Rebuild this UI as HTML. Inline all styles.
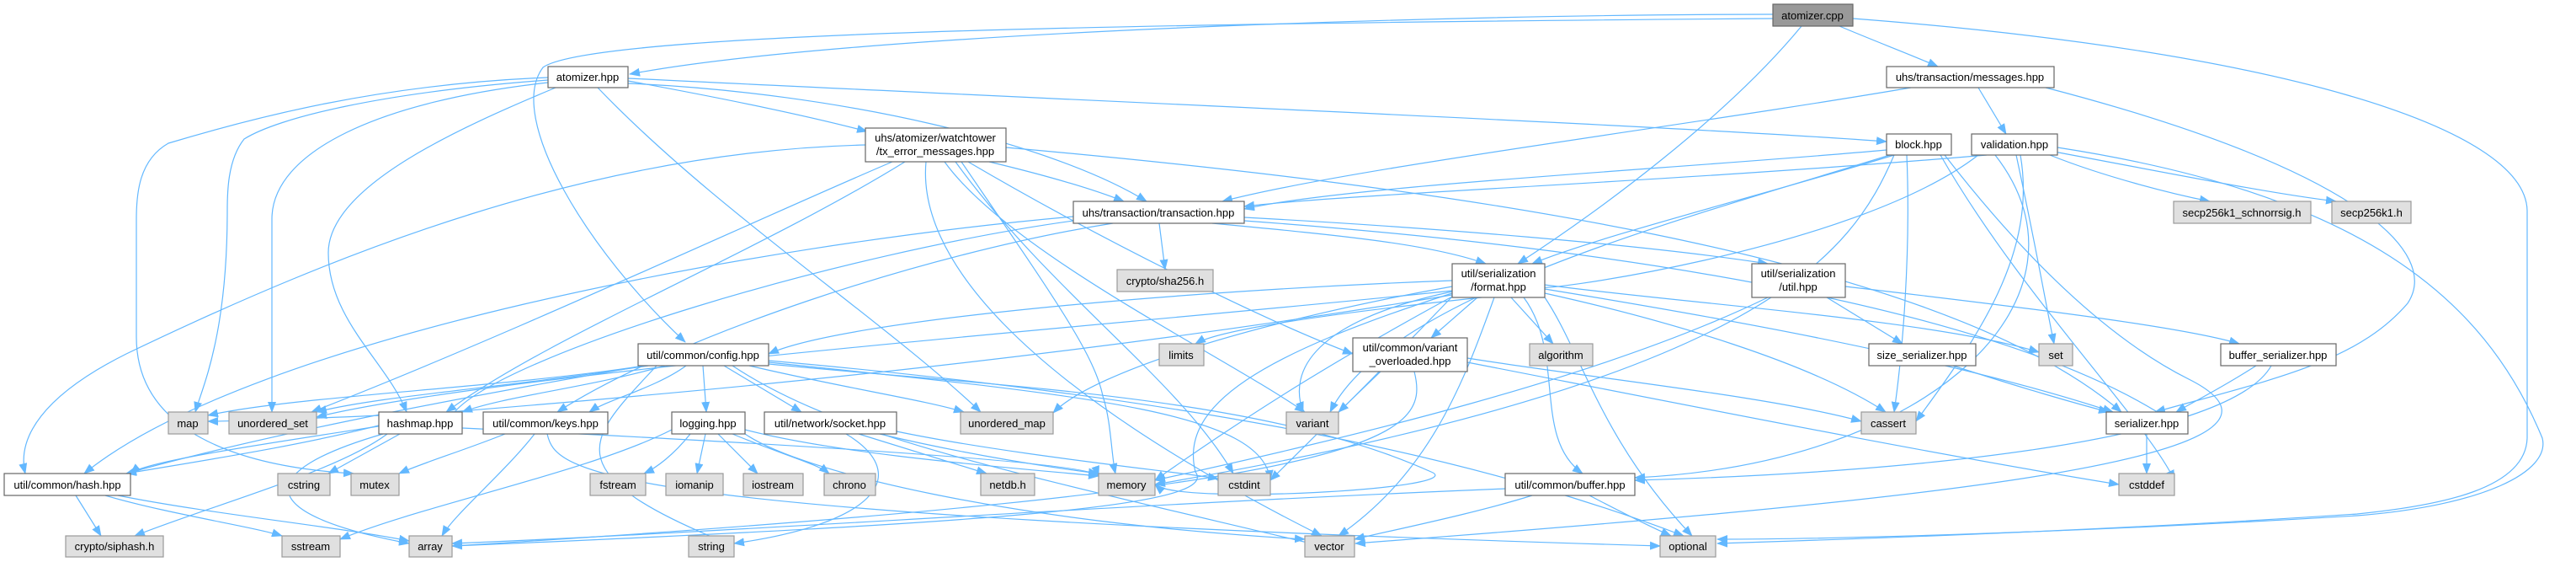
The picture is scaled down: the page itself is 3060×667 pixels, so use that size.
<!DOCTYPE html>
<html><head><meta charset="utf-8"><style>
html,body{margin:0;padding:0;background:#fff;}
svg{display:block}
text{font-family:"Liberation Sans",Arial,sans-serif;font-size:13px;fill:#000;text-anchor:middle}
.e{fill:none;stroke:#63b8ff;stroke-width:1.2}
.w{fill:#fff;stroke:#666;stroke-width:1.2}
.g{fill:#e0e0e0;stroke:#999;stroke-width:1.2}
.c{fill:#999;stroke:#666;stroke-width:1.2}
</style></head><body>
<svg width="3060" height="667" viewBox="0 0 3060 667" xmlns="http://www.w3.org/2000/svg">
<defs><marker id="a" markerWidth="13" markerHeight="10" refX="12" refY="5" orient="auto" markerUnits="userSpaceOnUse"><path d="M0,0 L13,5 L0,10 z" fill="#63b8ff"/></marker></defs>
<g class="e" marker-end="url(#a)">
<!-- atomizer.cpp -->
<path d="M2106,17 C1700,17 1000,40 748,88"/>
<path d="M2106,22 C1300,28 700,40 645,80 C600,140 700,300 814,406"/>
<path d="M2185,31 C2230,50 2270,65 2302,79"/>
<path d="M2140,31 C2050,140 1900,250 1803,313"/>
<path d="M2201,22 C2700,60 3000,150 3002,250 L3002,520 C3000,580 2900,600 2800,610 C2500,630 2200,640 2040,645"/>
<!-- atomizer.hpp -->
<path d="M746,96 C850,115 950,135 1030,156"/>
<path d="M746,99 C1000,110 1250,170 1362,239"/>
<path d="M746,93 C1300,120 2000,150 2241,168"/>
<path d="M651,95 C450,110 330,140 290,165 C270,190 270,230 270,250 C270,400 240,460 232,489"/>
<path d="M651,98 C450,120 323,180 323,260 L323,489"/>
<path d="M651,92 C450,100 300,140 200,170 C165,190 162,230 162,260 L162,400 C162,520 300,555 420,562"/>
<path d="M660,104 C550,150 390,220 390,300 C390,380 460,430 483,489"/>
<path d="M710,104 C850,250 1050,380 1165,489"/>
<!-- tx_error_messages -->
<path d="M1175,192 C1250,210 1300,225 1335,239"/>
<path d="M1060,192 C900,260 600,400 370,489"/>
<path d="M1075,192 C900,300 650,400 530,489"/>
<path d="M1122,192 C1200,300 1450,420 1550,489"/>
<path d="M1100,192 C1090,300 1200,450 1570,636"/>
<path d="M1135,192 C1250,350 1400,450 1465,562"/>
<path d="M1142,192 C1250,350 1300,420 1310,470 C1320,500 1320,540 1325,562"/>
<path d="M1150,192 C1300,280 1500,380 1607,420"/>
<path d="M1195,175 C1700,220 2300,300 2520,489"/>
<path d="M1028,172 C700,180 400,300 150,420 C50,470 20,520 30,562"/>
<!-- transaction.hpp -->
<path d="M1377,265 L1384,320"/>
<path d="M1440,265 C1600,280 1700,290 1765,313"/>
<path d="M1478,258 C1700,270 1950,290 2100,313"/>
<path d="M1322,265 C1100,300 800,400 662,489"/>
<path d="M1275,257 C900,290 300,400 100,562"/>
<path d="M1478,262 C2000,300 2400,380 2580,500"/>
<path d="M1275,262 C1000,300 600,420 540,489 C520,500 180,540 155,562"/>
<!-- messages.hpp -->
<path d="M2270,104 C2000,150 1600,200 1452,239"/>
<path d="M2350,104 L2383,159"/>
<path d="M2430,104 C2800,200 2900,300 2860,360 C2800,430 2700,450 2560,489"/>
<!-- block.hpp -->
<path d="M2241,178 C2000,200 1600,220 1478,248"/>
<path d="M2250,184 C2100,230 1900,280 1820,313"/>
<path d="M2245,184 C2000,260 1650,350 1580,489"/>
<path d="M2250,184 C2200,300 2100,450 1372,575"/>
<path d="M2265,184 C2270,300 2260,420 2250,489"/>
<path d="M2305,184 C2400,350 2550,500 2583,570"/>
<path d="M2310,184 C2400,300 2500,400 2600,450 C2800,550 2200,600 1610,645"/>
<!-- validation.hpp -->
<path d="M2360,184 C2000,215 1600,230 1478,245"/>
<path d="M2435,184 C2500,210 2580,230 2625,239"/>
<path d="M2440,180 C2600,210 2700,230 2775,239"/>
<path d="M2395,184 C2420,300 2430,360 2440,408"/>
<path d="M2400,184 C2420,300 2350,400 2276,500"/>
<path d="M2444,175 C2800,230 2950,350 3020,520 C3030,560 2950,600 2800,612 C2500,630 2200,640 2040,640"/>
<path d="M2350,184 C2200,300 1800,350 1835,340"/>
<path d="M2370,184 C2500,350 2300,550 1942,567"/>
<!-- format.hpp -->
<path d="M1725,333 C1400,345 1000,380 913,420"/>
<path d="M1760,353 C1600,370 1450,390 1420,408"/>
<path d="M1795,353 L1845,408"/>
<path d="M1755,353 L1700,401"/>
<path d="M1730,345 C1560,380 1530,440 1548,489"/>
<path d="M1775,353 C1740,450 1700,560 1590,636"/>
<path d="M1810,353 C1860,420 1820,520 1880,562"/>
<path d="M1835,353 C1880,420 1900,520 2010,636"/>
<path d="M1835,348 C1980,380 2150,430 2240,489"/>
<path d="M1835,343 C2000,370 2300,420 2510,489"/>
<path d="M1835,338 C2000,360 2300,380 2422,418"/>
<path d="M1725,340 C1500,380 1300,440 1251,490"/>
<path d="M1725,345 C1400,380 600,440 376,495"/>
<path d="M1725,350 C1300,420 900,460 520,490 C300,500 260,500 247,500"/>
<path d="M1725,348 C1500,420 1400,480 1420,560 C1450,600 1200,620 537,648"/>
<path d="M1725,352 C1600,420 1500,480 1372,570"/>
<path d="M1725,352 C1650,430 1600,480 1509,570"/>
<!-- util.hpp -->
<path d="M2170,353 L2260,408"/>
<path d="M2192,340 C2450,370 2600,390 2660,408"/>
<path d="M2100,353 C1900,450 1600,520 1372,570"/>
<!-- config.hpp -->
<path d="M765,434 C600,460 350,470 247,493"/>
<path d="M770,434 C600,460 450,470 376,489"/>
<path d="M790,434 C700,460 600,470 549,489"/>
<path d="M815,434 C780,460 720,475 700,489"/>
<path d="M835,434 L839,489"/>
<path d="M860,434 L952,489"/>
<path d="M890,434 C1000,460 1100,475 1145,489"/>
<path d="M913,432 C1200,460 1500,470 1700,560 C1750,580 1400,600 1372,575"/>
<path d="M913,430 C1300,470 1500,490 1509,570"/>
<path d="M765,434 C500,480 300,520 150,562"/>
<path d="M913,428 C1500,480 1800,560 2000,636"/>
<path d="M870,434 C1000,520 1200,560 1570,648"/>
<path d="M780,434 C700,520 650,560 872,648"/>
<!-- variant_overloaded -->
<path d="M1640,441 L1590,489"/>
<path d="M1743,425 C1900,450 2100,470 2211,500"/>
<path d="M1743,430 C2000,480 2300,540 2517,575"/>
<path d="M1680,441 C1700,520 1650,580 537,648"/>
<!-- hashmap.hpp -->
<path d="M450,505 C350,530 250,545 150,562"/>
<path d="M475,515 L390,562"/>
<path d="M460,515 C400,560 250,600 160,636"/>
<path d="M455,515 C300,560 300,610 486,645"/>
<path d="M549,508 C1000,530 1300,550 1305,565"/>
<!-- keys.hpp -->
<path d="M600,515 C550,535 500,550 474,562"/>
<path d="M635,515 C600,560 540,610 525,636"/>
<path d="M650,515 C660,560 700,610 1972,648"/>
<!-- hash.hpp -->
<path d="M90,588 L120,636"/>
<path d="M125,588 C200,610 300,625 335,636"/>
<path d="M140,588 C250,610 400,625 486,642"/>
<!-- logging.hpp -->
<path d="M820,515 C800,540 780,555 765,562"/>
<path d="M838,515 L828,562"/>
<path d="M853,515 L900,562"/>
<path d="M870,515 C930,540 970,550 985,562"/>
<path d="M885,510 C1000,540 1200,555 1305,565"/>
<path d="M798,510 C700,560 500,600 404,640"/>
<path d="M885,515 C950,560 1200,620 1550,640"/>
<!-- socket.hpp -->
<path d="M1020,515 C1100,540 1150,555 1172,562"/>
<path d="M1045,515 C1150,540 1250,555 1305,562"/>
<path d="M1065,512 C1200,540 1400,560 1447,568"/>
<path d="M1005,515 C1080,560 1050,620 872,645"/>
<!-- buffer.hpp -->
<path d="M1820,588 C1750,610 1650,630 1609,640"/>
<path d="M1888,588 C1930,610 1960,625 1985,636"/>
<path d="M1788,580 C1300,600 900,630 537,645"/>
<!-- size/buffer serializer -->
<path d="M2320,434 C2400,460 2470,480 2505,489"/>
<path d="M2680,434 C2640,460 2600,480 2585,489"/>
<path d="M2698,434 C2650,520 2300,560 1942,570"/>
<path d="M2550,515 L2550,562"/>
</g>
<!-- nodes -->
<g>
<rect class="c" x="2106" y="5" width="95" height="26"/><text x="2153" y="23">atomizer.cpp</text>
<rect class="w" x="651" y="79" width="95" height="25"/><text x="698" y="96">atomizer.hpp</text>
<rect class="w" x="2241" y="79" width="199" height="25"/><text x="2340" y="96">uhs/transaction/messages.hpp</text>
<rect class="w" x="1028" y="152" width="167" height="40"/><text x="1111" y="168">uhs/atomizer/watchtower</text><text x="1111" y="184">/tx_error_messages.hpp</text>
<rect class="w" x="2241" y="159" width="77" height="25"/><text x="2279" y="176">block.hpp</text>
<rect class="w" x="2342" y="159" width="102" height="25"/><text x="2393" y="176">validation.hpp</text>
<rect class="w" x="1275" y="239" width="203" height="26"/><text x="1376" y="257">uhs/transaction/transaction.hpp</text>
<rect class="g" x="1327" y="320" width="114" height="26"/><text x="1384" y="338">crypto/sha256.h</text>
<rect class="g" x="2582" y="239" width="163" height="26"/><text x="2663" y="257">secp256k1_schnorrsig.h</text>
<rect class="g" x="2770" y="239" width="94" height="26"/><text x="2817" y="257">secp256k1.h</text>
<rect class="w" x="1725" y="313" width="110" height="40"/><text x="1780" y="329">util/serialization</text><text x="1780" y="345">/format.hpp</text>
<rect class="w" x="2081" y="313" width="111" height="40"/><text x="2136" y="329">util/serialization</text><text x="2136" y="345">/util.hpp</text>
<rect class="w" x="758" y="408" width="155" height="26"/><text x="835" y="426">util/common/config.hpp</text>
<rect class="g" x="1377" y="408" width="53" height="26"/><text x="1403" y="426">limits</text>
<rect class="g" x="1817" y="408" width="75" height="26"/><text x="1854" y="426">algorithm</text>
<rect class="w" x="1607" y="401" width="136" height="40"/><text x="1675" y="417">util/common/variant</text><text x="1675" y="433">_overloaded.hpp</text>
<rect class="w" x="2220" y="408" width="127" height="26"/><text x="2283" y="426">size_serializer.hpp</text>
<rect class="g" x="2422" y="408" width="40" height="26"/><text x="2442" y="426">set</text>
<rect class="w" x="2638" y="408" width="137" height="26"/><text x="2706" y="426">buffer_serializer.hpp</text>
<rect class="g" x="200" y="489" width="47" height="26"/><text x="223" y="507">map</text>
<rect class="g" x="272" y="489" width="104" height="26"/><text x="324" y="507">unordered_set</text>
<rect class="w" x="450" y="489" width="99" height="26"/><text x="499" y="507">hashmap.hpp</text>
<rect class="w" x="574" y="489" width="148" height="26"/><text x="648" y="507">util/common/keys.hpp</text>
<rect class="w" x="798" y="489" width="87" height="26"/><text x="841" y="507">logging.hpp</text>
<rect class="w" x="908" y="489" width="157" height="26"/><text x="986" y="507">util/network/socket.hpp</text>
<rect class="g" x="1141" y="489" width="110" height="26"/><text x="1196" y="507">unordered_map</text>
<rect class="g" x="1528" y="489" width="62" height="26"/><text x="1559" y="507">variant</text>
<rect class="g" x="2211" y="489" width="65" height="26"/><text x="2243" y="507">cassert</text>
<rect class="w" x="2502" y="489" width="97" height="26"/><text x="2550" y="507">serializer.hpp</text>
<rect class="w" x="5" y="562" width="150" height="26"/><text x="80" y="580">util/common/hash.hpp</text>
<rect class="g" x="330" y="562" width="62" height="26"/><text x="361" y="580">cstring</text>
<rect class="g" x="417" y="562" width="57" height="26"/><text x="445" y="580">mutex</text>
<rect class="g" x="701" y="562" width="66" height="26"/><text x="734" y="580">fstream</text>
<rect class="g" x="791" y="562" width="68" height="26"/><text x="825" y="580">iomanip</text>
<rect class="g" x="883" y="562" width="71" height="26"/><text x="918" y="580">iostream</text>
<rect class="g" x="979" y="562" width="61" height="26"/><text x="1009" y="580">chrono</text>
<rect class="g" x="1165" y="562" width="64" height="26"/><text x="1197" y="580">netdb.h</text>
<rect class="g" x="1305" y="562" width="67" height="26"/><text x="1338" y="580">memory</text>
<rect class="g" x="1447" y="562" width="62" height="26"/><text x="1478" y="580">cstdint</text>
<rect class="w" x="1788" y="562" width="154" height="26"/><text x="1865" y="580">util/common/buffer.hpp</text>
<rect class="g" x="2517" y="562" width="66" height="26"/><text x="2550" y="580">cstddef</text>
<rect class="g" x="78" y="636" width="116" height="25"/><text x="136" y="653">crypto/siphash.h</text>
<rect class="g" x="335" y="636" width="69" height="25"/><text x="369" y="653">sstream</text>
<rect class="g" x="486" y="636" width="51" height="25"/><text x="511" y="653">array</text>
<rect class="g" x="818" y="636" width="54" height="25"/><text x="845" y="653">string</text>
<rect class="g" x="1550" y="636" width="59" height="25"/><text x="1579" y="653">vector</text>
<rect class="g" x="1972" y="636" width="66" height="25"/><text x="2005" y="653">optional</text>
</g>
</svg>
</body></html>
